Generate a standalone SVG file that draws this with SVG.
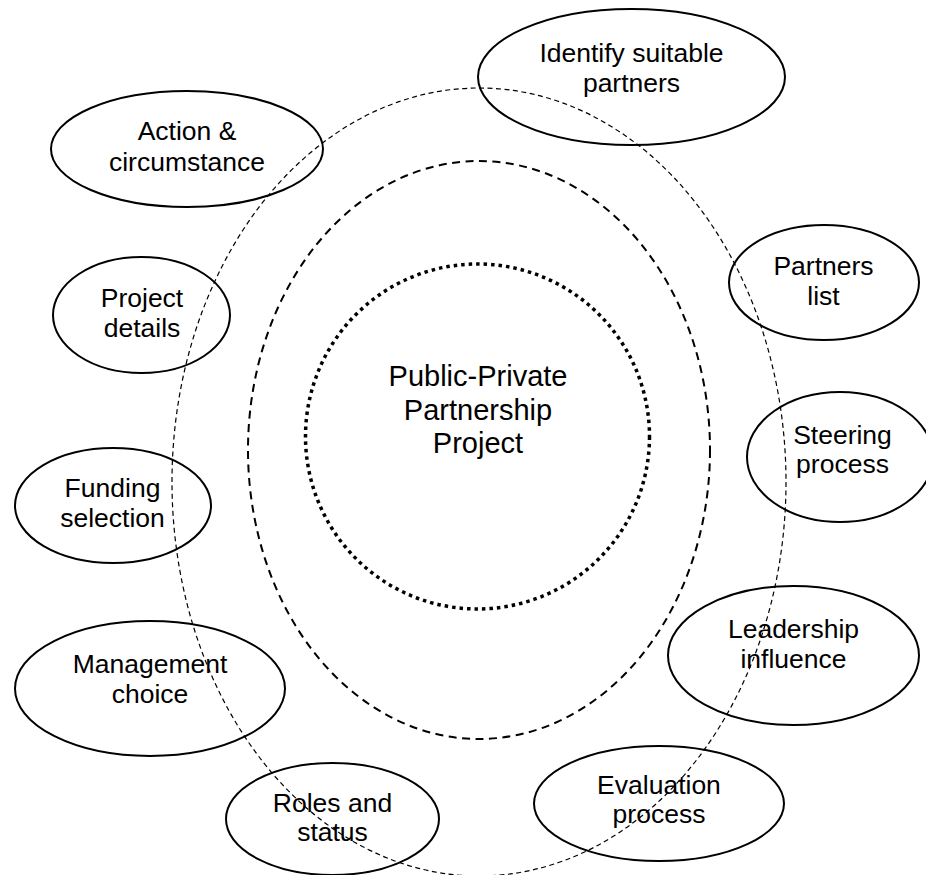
<svg xmlns="http://www.w3.org/2000/svg" width="926" height="875" viewBox="0 0 926 875">
  <style>
    .bg { fill: #ffffff; }
    .node { fill: none; stroke: #000000; stroke-width: 2; }
    .label { font-family: "Liberation Sans", Arial, sans-serif; font-size: 26.5px; fill: #000000; text-anchor: middle; }
    .core-label { font-family: "Liberation Sans", Arial, sans-serif; font-size: 29px; fill: #000000; text-anchor: middle; }
    .ring-outer { fill: none; stroke: #000000; stroke-width: 1.2; stroke-dasharray: 5 3.5; }
    .ring-middle { fill: none; stroke: #000000; stroke-width: 2; stroke-dasharray: 8 5.5; }
    .ring-inner { fill: none; stroke: #000000; stroke-width: 3.5; stroke-dasharray: 3.5 4; }
  </style>

  <rect class="bg" x="0" y="0" width="926" height="875"/>

  <!-- concentric boundary rings -->
  <g id="rings">
    <ellipse class="ring-outer" cx="479" cy="482" rx="307" ry="394"/>
    <ellipse class="ring-middle" cx="479" cy="450" rx="231" ry="289"/>
    <ellipse class="ring-inner" cx="477.5" cy="436.5" rx="172" ry="172.5"/>
  </g>

  <!-- central project -->
  <g id="core">
    <text class="core-label" x="478" y="386">Public-Private</text>
    <text class="core-label" x="478" y="420">Partnership</text>
    <text class="core-label" x="478" y="453">Project</text>
  </g>

  <!-- surrounding factors -->
  <g id="identify-partners">
    <ellipse class="node" cx="631.5" cy="77" rx="153.5" ry="68"/>
    <text class="label" x="631.5" y="62">Identify suitable</text>
    <text class="label" x="631.5" y="92">partners</text>
  </g>

  <g id="partners-list">
    <ellipse class="node" cx="824" cy="282.5" rx="95" ry="57.5"/>
    <text class="label" x="823.5" y="275">Partners</text>
    <text class="label" x="823.5" y="305">list</text>
  </g>

  <g id="steering-process">
    <ellipse class="node" cx="840" cy="457" rx="93" ry="65"/>
    <text class="label" x="842.5" y="444">Steering</text>
    <text class="label" x="842.5" y="473">process</text>
  </g>

  <g id="leadership-influence">
    <ellipse class="node" cx="793.5" cy="655.5" rx="125.5" ry="69.5"/>
    <text class="label" x="793.5" y="638">Leadership</text>
    <text class="label" x="793.5" y="668">influence</text>
  </g>

  <g id="evaluation-process">
    <ellipse class="node" cx="659" cy="803.5" rx="125" ry="57.5"/>
    <text class="label" x="659" y="794">Evaluation</text>
    <text class="label" x="659" y="823">process</text>
  </g>

  <g id="roles-status">
    <ellipse class="node" cx="332.5" cy="819" rx="106.5" ry="56"/>
    <text class="label" x="332.5" y="812">Roles and</text>
    <text class="label" x="332.5" y="841">status</text>
  </g>

  <g id="management-choice">
    <ellipse class="node" cx="150" cy="688.5" rx="135" ry="67.5"/>
    <text class="label" x="150" y="673">Management</text>
    <text class="label" x="150" y="703">choice</text>
  </g>

  <g id="funding-selection">
    <ellipse class="node" cx="113" cy="505.5" rx="98" ry="57.5"/>
    <text class="label" x="112.5" y="497">Funding</text>
    <text class="label" x="112.5" y="527">selection</text>
  </g>

  <g id="project-details">
    <ellipse class="node" cx="141.5" cy="315" rx="88.5" ry="58"/>
    <text class="label" x="142" y="307">Project</text>
    <text class="label" x="142" y="337">details</text>
  </g>

  <g id="action-circumstance">
    <ellipse class="node" cx="187" cy="149" rx="136" ry="58"/>
    <text class="label" x="187" y="140">Action &amp;</text>
    <text class="label" x="187" y="171">circumstance</text>
  </g>
</svg>
